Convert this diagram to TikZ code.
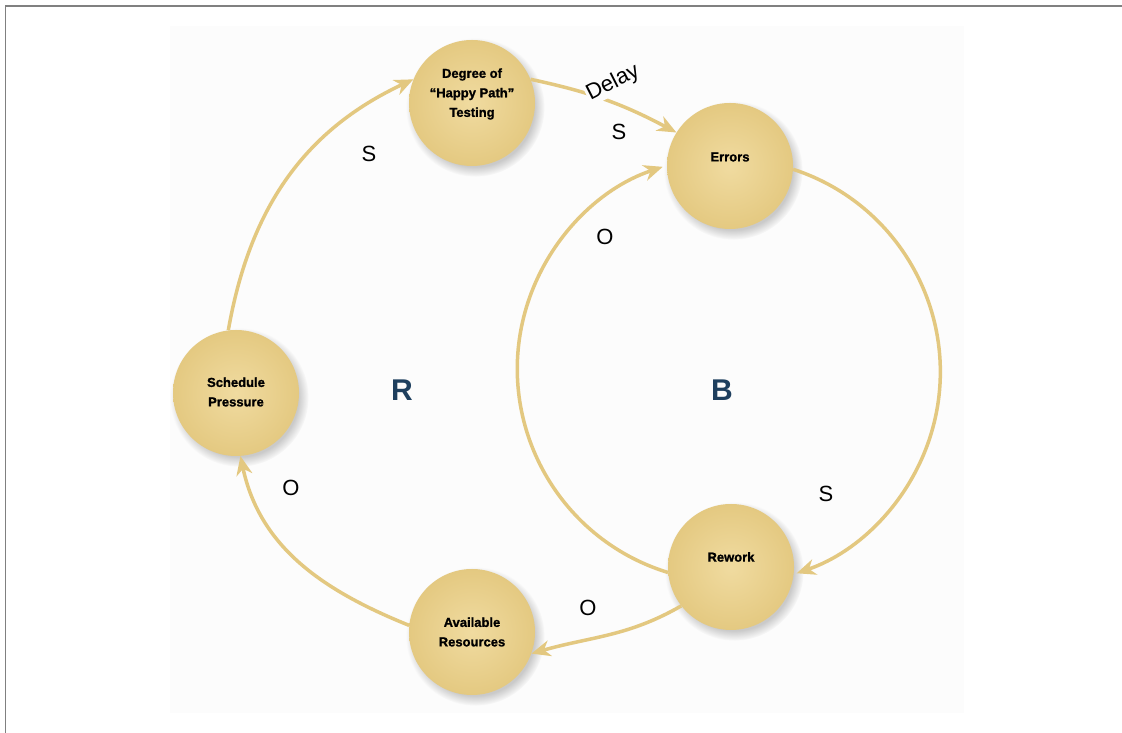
\documentclass[tikz,border=0pt]{standalone}
\usepackage{fontspec}
\setmainfont{Liberation Sans}
\newfontfamily\factorfont{Liberation Sans Bold}[FakeBold=1.2]
\usetikzlibrary{arrows.meta,shadows}
\definecolor{circin}{HTML}{F0DBA0}
\definecolor{circout}{HTML}{E4C981}
\definecolor{linkc}{HTML}{E3C880}
\definecolor{loopc}{HTML}{1E3F5E}
\definecolor{panel}{HTML}{FCFCFC}
\definecolor{frame}{HTML}{808080}
\tikzset{
  factor/.style={circle, minimum size=126pt, inner sep=0pt,
    inner color=circin, outer color=circout,
    circular drop shadow={shadow xshift=3pt, shadow yshift=-4pt, opacity=0.4}},
  factortext/.style={font=\factorfont\fontsize{13}{19.5}\selectfont, align=center, inner sep=0pt},
  link/.style={draw=linkc, line width=3.5pt, -{Stealth[length=19pt,width=16pt,inset=6pt]}},
  polarity/.style={font=\fontsize{22}{24}\selectfont},
  looptag/.style={font=\bfseries\fontsize{30}{32}\selectfont, text=loopc}
}
\begin{document}
\begin{tikzpicture}[x=1pt,y=1pt]
  \useasboundingbox (0,0) rectangle (1122,733);
  % frame and panel
  \fill[panel] (170,20) rectangle (964,707);
  \draw[frame, line width=1.5pt] (5.5,0) -- (5.5,727) -- (1122,727);

  % factors
  \node[factor] (deg) at (472,630) {};
  \node[factor] (err) at (730,567) {};
  \node[factor] (sp)  at (236,340) {};
  \node[factor] (rw)  at (731,166) {};
  \node[factor] (ar)  at (472,101) {};

  \node[factortext] (degt) at (472,639) {Degree of\\“Happy Path”\\Testing};
  \node[factortext] (errt) at (730,576) {Errors};
  \node[factortext] (spt)  at (236,341) {Schedule\\Pressure};
  \node[factortext] (rwt)  at (731,176) {Rework};
  \node[factortext] (art)  at (472,101) {Available\\Resources};

  % reinforcing loop links
  \draw[link] (sp.97) to[out=80,in=205] (deg.158);
  \draw[link] (deg.22) to[out=-12,in=152] (err.148);
  \draw[link] (rw.218) to[out=210,in=16] (ar.-20);
  \draw[link] (ar.174) to[out=158,in=-78] (sp.-86);

  % balancing loop: two arcs of one circle centred between Errors and Rework
  \draw[link] (err.-3) arc[start angle=72, end angle=-71, radius=213];
  \draw[link] (rw.185) arc[start angle=253, end angle=108.5, radius=213];

  % delay mark on the testing-to-errors link
  \node[polarity, fill=panel, rotate=27, inner sep=1pt] (delay) at (613,650) {Delay};

  % polarities
  \node[polarity] (p1) at (369,579) {S};
  \node[polarity] (p2) at (619,601) {S};
  \node[polarity] (p3) at (605,496) {O};
  \node[polarity] (p4) at (826,239) {S};
  \node[polarity] (p5) at (291,245) {O};
  \node[polarity] (p6) at (588,125) {O};

  % loop types
  \node[looptag] (rloop) at (402,343) {R};
  \node[looptag] (bloop) at (722,343) {B};
\end{tikzpicture}
\end{document}
